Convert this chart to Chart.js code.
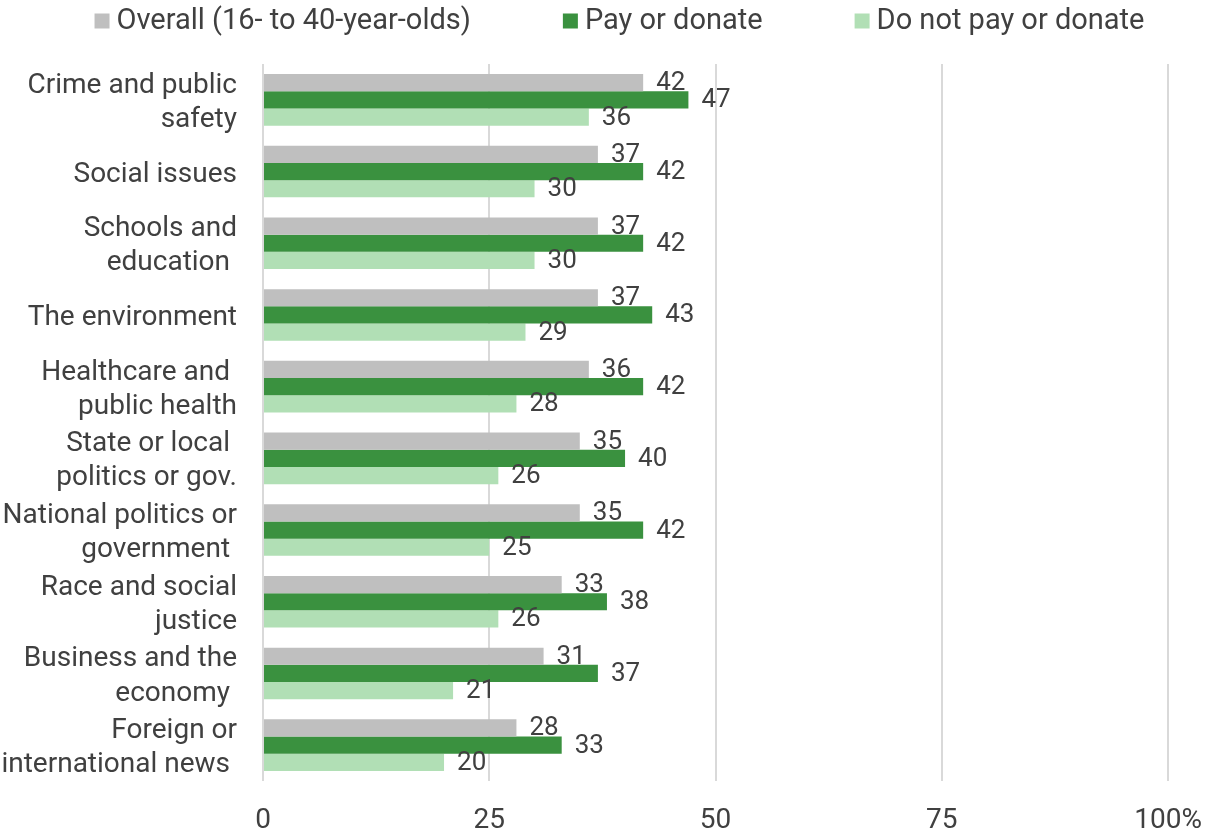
<!DOCTYPE html>
<html>
<head>
<meta charset="utf-8">
<script src="https://cdn.jsdelivr.net/npm/chart.js@4.4.1/dist/chart.umd.min.js"></script>
<style>
html,body{margin:0;padding:0;background:#fff;}
#wrap{width:1225px;height:836px;}
</style>
</head>
<body>
<div id="wrap"><canvas id="chart" width="1225" height="836"></canvas></div>
<script>

/* DATA */

const topics = [
["Crime and public","safety"],
["Social issues"],
["Schools and","education "],
["The environment"],
["Healthcare and ","public health"],
["State or local ","politics or gov."],
["National politics or","government "],
["Race and social","justice"],
["Business and the","economy "],
["Foreign or","international news "]
];

const overall = [42,37,37,37,36,35,35,33,31,28];
const payDonate = [47,42,42,43,42,40,42,38,37,33];
const noPay = [36,30,30,29,28,26,25,26,21,20];

const xTicks = [0,25,50,75,100];

const FONT = "Roboto";
const TXT = "#404040";

/* VALUE LABELS */

const valueLabels = {
id:"valueLabels",
afterDatasetsDraw(chart){
const ctx = chart.ctx;
ctx.save();
ctx.font = "26px " + FONT;
ctx.fillStyle = TXT;
ctx.textAlign = "left";
ctx.textBaseline = "middle";
chart.data.datasets.forEach((ds,di)=>{
const meta = chart.getDatasetMeta(di);
meta.data.forEach((bar,i)=>{
ctx.fillText(ds.data[i], bar.x + 13, bar.y + 1);
});
});
ctx.restore();
}
};

/* TOP LEGEND */

const topLegend = {
id:"topLegend",
afterDraw(chart){
const ctx = chart.ctx;
const box = 15, gapText = 7, gapItem = 92;
ctx.save();
ctx.font = "29px " + FONT;
const items = chart.data.datasets.map(ds=>({
text: ds.label,
color: ds.backgroundColor,
w: box + gapText + ctx.measureText(ds.label).width
}));
let total = items.reduce((s,it)=>s+it.w,0) + gapItem*(items.length-1);
let x = (chart.width - total)/2 + 7;
const y = 21;
items.forEach(it=>{
ctx.fillStyle = it.color;
ctx.fillRect(x, y - box/2, box, box);
ctx.fillStyle = TXT;
ctx.textAlign = "left";
ctx.textBaseline = "middle";
ctx.fillText(it.text, x + box + gapText, y + 1);
x += it.w + gapItem;
});
ctx.restore();
}
};

/* CHART */

new Chart(document.getElementById("chart"),{
type:"bar",
data:{
labels:topics,
datasets:[
{label:"Overall (16- to 40-year-olds)",data:overall,backgroundColor:"#BFBFBF"},
{label:"Pay or donate",data:payDonate,backgroundColor:"#3A913F"},
{label:"Do not pay or donate",data:noPay,backgroundColor:"#B1DFB5"}
]
},
options:{
indexAxis:"y",
responsive:false,
animation:false,
maintainAspectRatio:false,
layout:{padding:{top:64,right:56,left:0,bottom:0}},
datasets:{bar:{categoryPercentage:0.72,barPercentage:1}},
plugins:{legend:{display:false},tooltip:{enabled:false}},
scales:{
x:{
min:0,
max:100,
afterBuildTicks(scale){ scale.ticks = xTicks.map(v=>({value:v})); },
afterFit(scale){ scale.height = 55; },
grid:{color:"#D9D9D9",lineWidth:2,drawTicks:false},
border:{display:false},
ticks:{
padding:23,
color:TXT,
font:{family:FONT,size:28},
callback:v=> v===100 ? "100%" : v
}
},
y:{
afterFit(scale){ scale.width = 263; },
grid:{display:false},
border:{display:false},
ticks:{
padding:18,
labelOffset:3,
color:TXT,
font:{family:FONT,size:28,lineHeight:1.22}
}
}
}
},
plugins:[valueLabels,topLegend]
});

</script>
</body>
</html>
